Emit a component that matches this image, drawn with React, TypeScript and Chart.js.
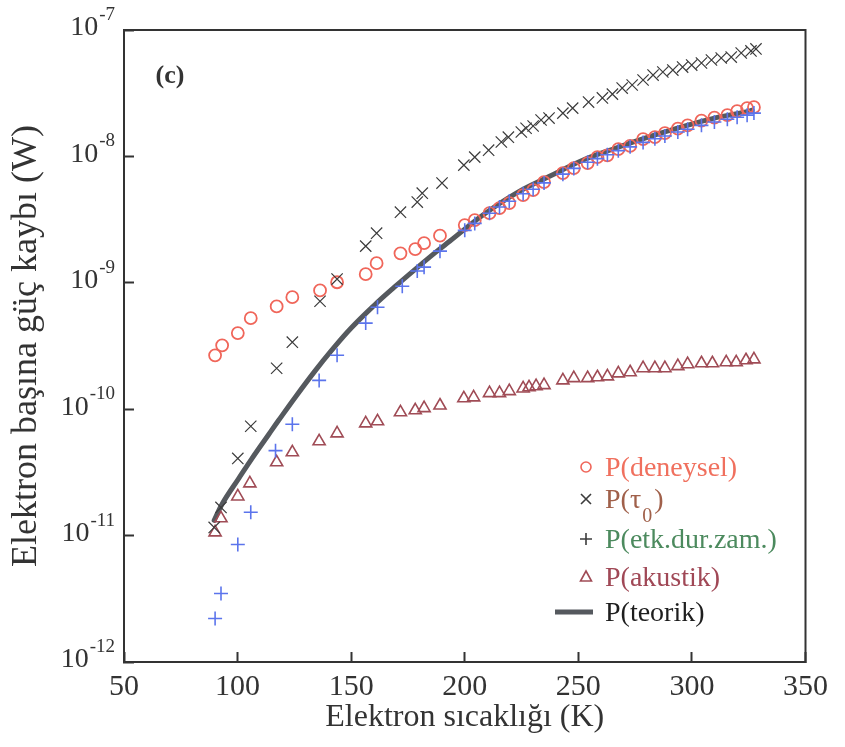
import React, { useEffect, useRef } from 'react';
import { Chart, registerables } from 'chart.js';

Chart.register(...registerables);

// ---------- data ----------
const xTickValues = [50, 100, 150, 200, 250, 300, 350];
const yTickValues = [1e-12, 1e-11, 1e-10, 1e-9, 1e-8, 1e-7];

const tDeneysel = [90.1, 93.2, 100.1, 105.8, 117.2, 124.1, 136.3, 143.8, 156.4, 161.2, 171.7, 178.2, 182.1, 189.1, 200.0, 204.4, 210.9, 215.3, 219.6, 225.7, 230.1, 234.9, 243.2, 248.0, 254.1, 258.4, 262.8, 267.6, 272.8, 278.5, 283.7, 288.1, 293.8, 298.1, 304.2, 309.9, 315.6, 319.9, 324.3, 327.3];
const pDeneysel = [2.67e-10, 3.2e-10, 4.0e-10, 5.25e-10, 6.5e-10, 7.7e-10, 8.7e-10, 1.01e-9, 1.17e-9, 1.43e-9, 1.71e-9, 1.85e-9, 2.06e-9, 2.36e-9, 2.86e-9, 3.13e-9, 3.56e-9, 3.9e-9, 4.27e-9, 4.94e-9, 5.41e-9, 6.26e-9, 7.38e-9, 8.08e-9, 8.85e-9, 9.87e-9, 1.02e-8, 1.14e-8, 1.21e-8, 1.37e-8, 1.42e-8, 1.53e-8, 1.66e-8, 1.76e-8, 1.92e-8, 2.03e-8, 2.12e-8, 2.28e-8, 2.41e-8, 2.45e-8];

const tTau = [89.7, 92.7, 100.1, 105.8, 117.2, 124.1, 136.3, 143.8, 156.4, 161.2, 171.7, 179.1, 181.3, 190.0, 199.6, 204.4, 210.5, 216.1, 219.2, 224.9, 227.0, 230.1, 233.6, 237.1, 243.2, 247.5, 254.5, 260.6, 265.0, 269.3, 273.7, 278.5, 282.9, 287.2, 291.6, 295.9, 299.9, 304.2, 308.6, 312.9, 317.3, 321.7, 326.0, 328.2];
const pTau = [1.16e-11, 1.67e-11, 4.08e-11, 7.33e-11, 2.11e-10, 3.39e-10, 7.15e-10, 1.07e-9, 1.95e-9, 2.47e-9, 3.62e-9, 4.35e-9, 5.12e-9, 6.15e-9, 8.53e-9, 9.87e-9, 1.12e-8, 1.3e-8, 1.42e-8, 1.56e-8, 1.67e-8, 1.74e-8, 1.94e-8, 2.01e-8, 2.2e-8, 2.41e-8, 2.69e-8, 2.9e-8, 3.11e-8, 3.47e-8, 3.67e-8, 4.02e-8, 4.4e-8, 4.65e-8, 4.82e-8, 5.09e-8, 5.28e-8, 5.48e-8, 5.79e-8, 6.0e-8, 6.11e-8, 6.58e-8, 6.83e-8, 7.08e-8];

const tEtk = [90.1, 92.7, 100.1, 105.8, 116.7, 124.1, 135.9, 143.8, 156.4, 161.6, 172.5, 179.1, 182.1, 189.1, 200.0, 204.4, 210.9, 215.3, 219.6, 225.7, 230.1, 234.9, 243.2, 248.0, 254.1, 258.4, 262.8, 267.6, 272.8, 278.5, 283.7, 288.1, 293.8, 298.1, 304.2, 309.9, 315.6, 319.9, 324.3, 327.3];
const pEtk = [2.21e-12, 3.48e-12, 8.5e-12, 1.53e-11, 4.7e-11, 7.6e-11, 1.69e-10, 2.67e-10, 4.8e-10, 6.4e-10, 9.4e-10, 1.24e-9, 1.33e-9, 1.78e-9, 2.6e-9, 2.95e-9, 3.55e-9, 3.98e-9, 4.42e-9, 5.07e-9, 5.5e-9, 6.17e-9, 7.24e-9, 8.04e-9, 9.0e-9, 9.6e-9, 1.03e-8, 1.11e-8, 1.19e-8, 1.29e-8, 1.38e-8, 1.45e-8, 1.56e-8, 1.64e-8, 1.76e-8, 1.87e-8, 1.97e-8, 2.04e-8, 2.12e-8, 2.2e-8];

const tAkustik = [90.1, 92.7, 100.1, 105.4, 117.2, 124.1, 135.9, 143.8, 156.4, 161.6, 171.7, 178.2, 182.1, 189.1, 199.6, 203.9, 210.9, 215.3, 219.6, 225.7, 228.3, 231.4, 234.9, 243.2, 248.0, 254.1, 258.4, 262.8, 267.6, 272.8, 278.5, 283.7, 288.1, 293.8, 298.1, 304.2, 309.0, 315.1, 319.5, 323.8, 327.3];
const pAkustik = [1.06e-11, 1.37e-11, 2.04e-11, 2.59e-11, 3.8e-11, 4.56e-11, 5.57e-11, 6.44e-11, 7.73e-11, 8.02e-11, 9.45e-11, 9.8e-11, 1.02e-10, 1.07e-10, 1.22e-10, 1.24e-10, 1.34e-10, 1.34e-10, 1.39e-10, 1.46e-10, 1.49e-10, 1.52e-10, 1.55e-10, 1.69e-10, 1.76e-10, 1.76e-10, 1.79e-10, 1.82e-10, 1.92e-10, 1.96e-10, 2.11e-10, 2.11e-10, 2.11e-10, 2.19e-10, 2.27e-10, 2.31e-10, 2.31e-10, 2.35e-10, 2.35e-10, 2.44e-10, 2.48e-10];

const tTeorik = [89.7, 93.2, 100.6, 106.3, 113.7, 118.0, 125.4, 134.2, 141.1, 149.9, 160.3, 169.0, 179.1, 187.8, 193.5, 208.3, 222.7, 237.1, 251.9, 266.3, 280.7, 295.5, 309.9, 324.3, 326.5];
const pTeorik = [1.32e-11, 1.78e-11, 2.85e-11, 4.07e-11, 6.31e-11, 8.13e-11, 1.245e-10, 2.02e-10, 2.88e-10, 4.37e-10, 6.68e-10, 9.23e-10, 1.32e-9, 1.78e-9, 2.14e-9, 3.47e-9, 5.13e-9, 6.92e-9, 9.33e-9, 1.16e-8, 1.42e-8, 1.71e-8, 2.01e-8, 2.26e-8, 2.32e-8];

const legendLabels = ['P(deneysel)', 'P(τ_0)', 'P(etk.dur.zam.)', 'P(akustik)', 'P(teorik)'];
const legendTextColors = ['#f0705e', '#a0604a', '#4c8a5e', '#a04856', '#1e1e1e'];
const legendMarkers = ['circle', 'crossRot', 'cross', 'triangle', 'line'];
const legendMarkerColors = ['#f0665a', '#3c3c3c', '#3c3c3c', '#a04c56', '#55595e'];

const xTitle = 'Elektron sıcaklığı (K)';
const yTitle = 'Elektron başına güç kaybı (W)';
const panelLabel = '(c)';

const FONT = '"Liberation Serif", "DejaVu Serif", "Times New Roman", serif';
const AXIS_COLOR = '#333333';

const toPts = (xs: number[], ys: number[]) => xs.map((x, i) => ({ x, y: ys[i] }));

function drawMarker(ctx: CanvasRenderingContext2D, kind: string, x: number, y: number, color: string) {
  ctx.save();
  ctx.strokeStyle = color;
  ctx.lineWidth = 1.6;
  ctx.beginPath();
  if (kind === 'circle') {
    ctx.arc(x, y, 5, 0, Math.PI * 2);
  } else if (kind === 'crossRot') {
    ctx.moveTo(x - 5, y - 5); ctx.lineTo(x + 5, y + 5);
    ctx.moveTo(x + 5, y - 5); ctx.lineTo(x - 5, y + 5);
  } else if (kind === 'cross') {
    ctx.moveTo(x - 6, y); ctx.lineTo(x + 6, y);
    ctx.moveTo(x, y - 6); ctx.lineTo(x, y + 6);
  } else if (kind === 'triangle') {
    ctx.moveTo(x, y - 6); ctx.lineTo(x + 5.5, y + 4); ctx.lineTo(x - 5.5, y + 4); ctx.closePath();
  } else if (kind === 'line') {
    ctx.lineWidth = 5;
    ctx.moveTo(x - 31, y); ctx.lineTo(x + 7, y);
  }
  ctx.stroke();
  ctx.restore();
}

const decorPlugin = {
  id: 'decor',
  afterDraw(chart: any) {
    const { ctx, chartArea: a, scales } = chart;
    ctx.save();
    ctx.strokeStyle = AXIS_COLOR;
    ctx.lineWidth = 2;
    ctx.beginPath();
    ctx.moveTo(a.left - 1, a.top);
    ctx.lineTo(a.right, a.top);
    ctx.lineTo(a.right, a.bottom + 1);
    ctx.stroke();

    const ys = scales.y;
    ctx.fillStyle = AXIS_COLOR;
    ctx.textAlign = 'right';
    ctx.textBaseline = 'middle';
    ys.ticks.forEach((t: any) => {
      const py = ys.getPixelForValue(t.value);
      const exp = String(Math.round(Math.log10(t.value)));
      ctx.font = `19px ${FONT}`;
      const sw = ctx.measureText(exp).width;
      ctx.fillText(exp, 115, py - 15);
      ctx.font = `28px ${FONT}`;
      ctx.fillText('10', 115 - sw - 1, py - 2);
    });

    ctx.font = `bold 26px ${FONT}`;
    ctx.textAlign = 'center';
    ctx.fillStyle = '#333';
    ctx.fillText(panelLabel, 170, 76);

    const rows = [469, 501, 541, 579, 614];
    legendLabels.forEach((lab, i) => {
      const y = rows[i];
      drawMarker(ctx, legendMarkers[i], 586, y - 2, legendMarkerColors[i]);
      ctx.fillStyle = legendTextColors[i];
      ctx.textAlign = 'left';
      ctx.textBaseline = 'middle';
      let x = 605;
      const parts = lab.split('_');
      ctx.font = `28px ${FONT}`;
      ctx.fillText(parts[0], x, y);
      x += ctx.measureText(parts[0]).width;
      if (parts.length > 1) {
        const sub = parts[1].charAt(0);
        const rest = parts[1].slice(1);
        ctx.font = `20px ${FONT}`;
        ctx.fillText(sub, x + 1, y + 16);
        x += ctx.measureText(sub).width + 3;
        ctx.font = `28px ${FONT}`;
        ctx.fillText(rest, x, y);
      }
    });
    ctx.restore();
  },
};

export default function App() {
  const canvasRef = useRef<HTMLCanvasElement | null>(null);

  useEffect(() => {
    document.body.style.margin = '0';
    const canvas = canvasRef.current;
    if (!canvas) return;
    let chart: any = null;
    let cancelled = false;
    const build = () => {
      if (cancelled || !canvasRef.current) return;
      chart = new Chart(canvas, {
        type: 'scatter',
        data: {
          datasets: [
            {
              label: 'P(deneysel)',
              data: toPts(tDeneysel, pDeneysel),
              pointStyle: 'circle',
              pointRadius: 6,
              pointBorderWidth: 1.8,
              borderColor: '#f0665a',
              backgroundColor: 'rgba(0,0,0,0)',
              order: 2,
            },
            {
              label: 'P(τ0)',
              data: toPts(tTau, pTau),
              pointStyle: 'crossRot',
              pointRadius: 8,
              pointBorderWidth: 1.2,
              borderColor: '#3c3c3c',
              backgroundColor: 'rgba(0,0,0,0)',
              order: 1,
            },
            {
              label: 'P(etk.dur.zam.)',
              data: toPts(tEtk, pEtk),
              pointStyle: 'cross',
              pointRadius: 7,
              pointBorderWidth: 1.6,
              borderColor: '#5b74ec',
              backgroundColor: 'rgba(0,0,0,0)',
              order: 0,
            },
            {
              label: 'P(akustik)',
              data: toPts(tAkustik, pAkustik),
              pointStyle: 'triangle',
              pointRadius: 7,
              pointBorderWidth: 1.6,
              borderColor: '#a04c56',
              backgroundColor: 'rgba(0,0,0,0)',
              order: 3,
            },
            {
              label: 'P(teorik)',
              data: toPts(tTeorik, pTeorik),
              showLine: true,
              pointRadius: 0,
              borderWidth: 5,
              borderColor: '#55595e',
              backgroundColor: '#55595e',
              tension: 0.4,
              borderCapStyle: 'round',
              borderJoinStyle: 'round',
              order: 10,
            } as any,
          ],
        },
        options: {
          responsive: false,
          animation: false,
          devicePixelRatio: 1,
          layout: { padding: { top: 30, right: 33, left: 0, bottom: 0 } },
          plugins: {
            legend: { display: false },
            tooltip: { enabled: false },
          },
          scales: {
            x: {
              type: 'linear',
              position: 'bottom',
              min: 50,
              max: 350,
              afterBuildTicks: (axis: any) => {
                axis.ticks = xTickValues.map((v) => ({ value: v }));
              },
              afterFit: (axis: any) => {
                axis.height = 85;
              },
              grid: {
                drawOnChartArea: false,
                drawTicks: true,
                tickLength: -10,
                tickWidth: 2,
                tickColor: AXIS_COLOR,
              },
              border: { display: true, color: AXIS_COLOR, width: 2 },
              ticks: {
                color: AXIS_COLOR,
                padding: 17,
                maxRotation: 0,
                autoSkip: false,
                font: { family: FONT, size: 30, lineHeight: 1.2 },
              },
              title: {
                display: true,
                text: xTitle,
                color: AXIS_COLOR,
                font: { family: FONT, size: 32, lineHeight: 1 },
                padding: { top: 0, bottom: 13 },
              },
            },
            y: {
              type: 'logarithmic',
              position: 'left',
              min: 1e-12,
              max: 1e-7,
              afterBuildTicks: (axis: any) => {
                axis.ticks = yTickValues.map((v) => ({ value: v }));
              },
              afterFit: (axis: any) => {
                axis.width = 124;
              },
              grid: {
                drawOnChartArea: false,
                drawTicks: true,
                tickLength: -10,
                tickWidth: 2,
                tickColor: AXIS_COLOR,
              },
              border: { display: true, color: AXIS_COLOR, width: 2 },
              ticks: { display: false },
              title: {
                display: true,
                text: yTitle,
                color: AXIS_COLOR,
                font: { family: FONT, size: 36, lineHeight: 1 },
                padding: { top: 9, bottom: 0 },
              },
            },
          },
        },
        plugins: [decorPlugin],
      } as any);
    };
    const fontsApi: any = (document as any).fonts;
    if (fontsApi && fontsApi.load) {
      Promise.all([
        fontsApi.load('28px "Liberation Serif"'),
        fontsApi.load('bold 28px "Liberation Serif"'),
      ])
        .catch(() => undefined)
        .then(() => build());
    } else {
      build();
    }
    return () => {
      cancelled = true;
      if (chart) chart.destroy();
    };
  }, []);

  return (
    <div style={{ width: 845, height: 747, background: '#fff' }}>
      <canvas ref={canvasRef} width={845} height={747} style={{ display: 'block' }} />
    </div>
  );
}
